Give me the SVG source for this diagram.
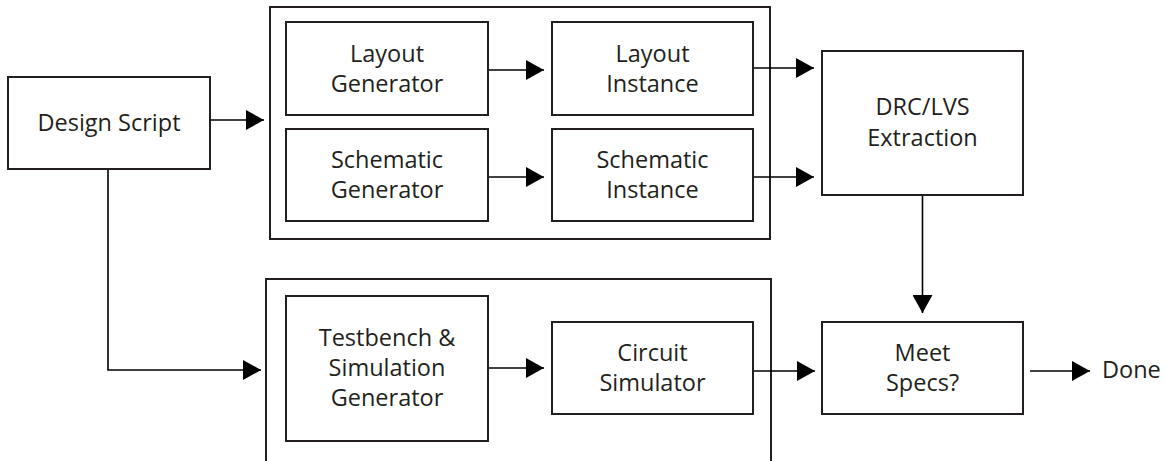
<svg xmlns="http://www.w3.org/2000/svg" width="1165" height="461" viewBox="0 0 1165 461">
  <style>
    .box { fill: none; stroke: #231f20; stroke-width: 2; }
    .frame { fill: none; stroke: #231f20; stroke-width: 2; }
    .label { font-family: "Open Sans", "Noto Sans", sans-serif; font-size: 23.5px; fill: #231f20; text-anchor: middle; }
    .free { font-family: "Open Sans", "Noto Sans", sans-serif; font-size: 23.5px; fill: #231f20; }
    .wire { fill: none; stroke: #000; stroke-width: 1.6; marker-end: url(#head); }
  </style>
  <defs>
    <marker id="head" markerUnits="userSpaceOnUse" markerWidth="18" markerHeight="20" refX="18" refY="10" orient="auto">
      <path d="M0,0 L18,10 L0,20 Z" fill="#000"/>
    </marker>
  </defs>
  <rect width="1165" height="461" fill="#fff"/>

  <!-- grouping frames -->
  <g id="generation-frame">
    <rect class="frame" x="270" y="7" width="500" height="232"/>
  </g>
  <g id="testbench-frame">
    <rect class="frame" x="266" y="279" width="505" height="200"/>
  </g>

  <!-- connectors -->
  <g id="connectors">
    <path class="wire" d="M210,120 H264"/>
    <path class="wire" d="M108,169 V370 H261"/>
    <path class="wire" d="M488,70 H544"/>
    <path class="wire" d="M488,177 H544"/>
    <path class="wire" d="M753,68 H814"/>
    <path class="wire" d="M753,177 H814"/>
    <path class="wire" d="M922.5,195 V313"/>
    <path class="wire" d="M488,368 H544"/>
    <path class="wire" d="M753,371 H815"/>
    <path class="wire" d="M1030,371 H1090"/>
  </g>

  <!-- nodes -->
  <g id="design-script">
    <rect class="box" x="8" y="77" width="202" height="92"/>
    <text class="label" x="109" y="131">Design Script</text>
  </g>
  <g id="layout-generator">
    <rect class="box" x="286" y="22" width="202" height="93"/>
    <text class="label" x="387" y="62">Layout</text>
    <text class="label" x="387" y="92">Generator</text>
  </g>
  <g id="schematic-generator">
    <rect class="box" x="286" y="129" width="202" height="92"/>
    <text class="label" x="387" y="168">Schematic</text>
    <text class="label" x="387" y="198">Generator</text>
  </g>
  <g id="layout-instance">
    <rect class="box" x="552" y="22" width="201" height="93"/>
    <text class="label" x="652.5" y="62">Layout</text>
    <text class="label" x="652.5" y="92">Instance</text>
  </g>
  <g id="schematic-instance">
    <rect class="box" x="552" y="129" width="201" height="92"/>
    <text class="label" x="652.5" y="168">Schematic</text>
    <text class="label" x="652.5" y="198">Instance</text>
  </g>
  <g id="drc-lvs">
    <rect class="box" x="822" y="51" width="201" height="144"/>
    <text class="label" x="922.5" y="115">DRC/LVS</text>
    <text class="label" x="922.5" y="146">Extraction</text>
  </g>
  <g id="testbench-generator">
    <rect class="box" x="286" y="296" width="202" height="145"/>
    <text class="label" x="387" y="346">Testbench &amp;</text>
    <text class="label" x="387" y="376">Simulation</text>
    <text class="label" x="387" y="406">Generator</text>
  </g>
  <g id="circuit-simulator">
    <rect class="box" x="552" y="322" width="201" height="92"/>
    <text class="label" x="652.5" y="361">Circuit</text>
    <text class="label" x="652.5" y="391">Simulator</text>
  </g>
  <g id="meet-specs">
    <rect class="box" x="822" y="322" width="201" height="92"/>
    <text class="label" x="922.5" y="361">Meet</text>
    <text class="label" x="922.5" y="391">Specs?</text>
  </g>
  <g id="done">
    <text class="free" x="1102" y="378">Done</text>
  </g>
</svg>
